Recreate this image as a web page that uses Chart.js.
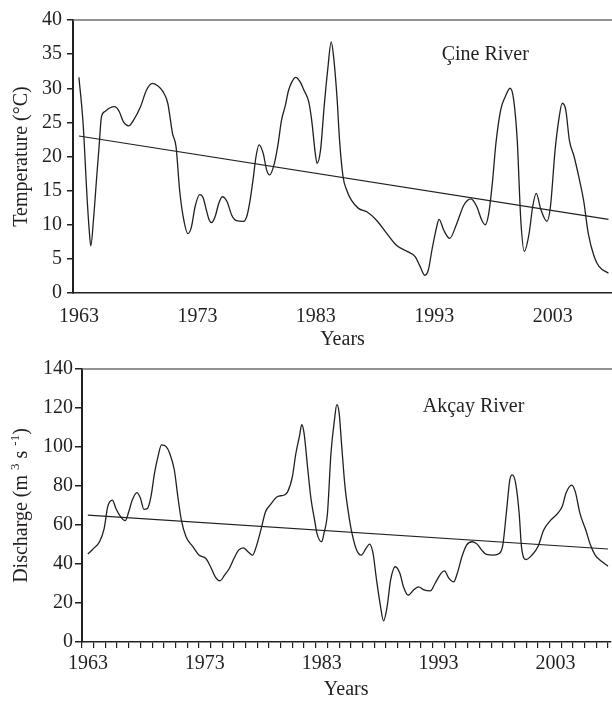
<!DOCTYPE html>
<html lang="en">

<head>
    <meta charset="UTF-8">
    <title>Çine and Akçay Rivers</title>
    <script src="https://cdn.jsdelivr.net/npm/chart.js"></script>
    <style>
        body,
        html {
            margin: 0;
            padding: 0;
            background-color: #fff;
        }

        .panel {
            position: absolute;
            left: 0;
            width: 612px;
        }

        #topPanel {
            top: 0;
            height: 352px;
        }

        #bottomPanel {
            top: 352px;
            height: 350px;
        }
    </style>
</head>

<body>
    <div class="panel" id="topPanel"><canvas id="tempChart"></canvas></div>
    <div class="panel" id="bottomPanel"><canvas id="dischargeChart"></canvas></div>

    <script>
        // Çine River (top panel)
        const cineYears = [
            1963.0, 1963.35, 1963.7, 1963.87, 1964.0, 1964.25, 1964.5, 1964.7, 1964.9, 1965.2,
            1965.6, 1966.0, 1966.4, 1966.75, 1967.2, 1967.6, 1968.2, 1968.7, 1969.2, 1969.7,
            1970.1, 1970.5, 1970.9, 1971.2, 1971.5, 1971.8, 1972.2, 1972.5, 1972.8, 1973.2,
            1973.5, 1973.75, 1974.0, 1974.2, 1974.5, 1974.8, 1975.1, 1975.5, 1975.9, 1976.3,
            1976.9, 1977.2, 1977.45, 1977.7, 1977.95, 1978.2, 1978.55, 1978.85, 1979.1, 1979.5,
            1979.8, 1980.1, 1980.4, 1980.7, 1981.0, 1981.3, 1981.65, 1982.0, 1982.4, 1982.65,
            1982.95, 1983.1, 1983.4, 1983.7, 1984.0, 1984.3, 1984.5, 1984.8, 1985.0, 1985.3,
            1985.6, 1986.0, 1986.6, 1987.3, 1988.1, 1989.0, 1989.8, 1990.7, 1991.4, 1991.8,
            1992.2, 1992.5, 1992.8, 1993.2, 1993.4, 1993.8, 1994.3, 1994.9, 1995.5, 1996.1,
            1996.6, 1997.0, 1997.3, 1997.6, 1997.9, 1998.2, 1998.6, 1999.0, 1999.4, 1999.7,
            2000.0, 2000.3, 2000.6, 2001.0, 2001.3, 2001.6, 2002.0, 2002.5, 2002.8, 2003.2,
            2003.5, 2003.8, 2004.1, 2004.4, 2004.8, 2005.2, 2005.6, 2006.0, 2006.5, 2006.9,
            2007.7
        ];
        const cineTemp = [
            31.6, 24.9, 13.6, 9.2, 6.9, 11.2, 17.0, 21.4, 25.8, 26.6,
            27.1, 27.3, 26.6, 25.1, 24.5, 25.3, 27.3, 29.7, 30.7, 30.3,
            29.5, 27.8, 23.4, 21.4, 15.1, 11.2, 8.7, 9.7, 12.6, 14.4,
            13.9, 12.2, 10.7, 10.3, 11.2, 13.1, 14.1, 13.4, 11.4, 10.6,
            10.5, 11.4, 13.6, 16.6, 20.0, 21.7, 20.5, 18.0, 17.3, 19.0,
            21.7, 25.3, 27.3, 29.7, 31.0, 31.6, 31.0, 29.7, 28.0, 25.3,
            20.5, 19.0, 21.0, 27.3, 32.7, 36.8, 34.6, 28.3, 22.4, 17.0,
            15.1, 13.6, 12.4, 11.9, 10.7, 8.7, 7.0, 6.1, 5.3, 3.9,
            2.6, 3.4, 6.3, 9.7, 10.8, 9.2, 8.0, 10.2, 12.9, 13.8,
            12.6, 10.7, 10.0, 11.7, 16.1, 21.9, 26.8, 28.8, 30.0, 28.3,
            22.4, 10.7, 6.1, 8.7, 12.6, 14.6, 12.2, 10.5, 12.6, 21.0,
            25.3, 27.8, 26.8, 22.4, 20.0, 17.0, 13.6, 8.7, 5.3, 3.9,
            2.9
        ];
        const cineTrendYears = [1963, 2007.7];
        const cineTrend = [23.0, 10.8];

        // Akçay River (bottom panel)
        const akcayYears = [
            1963.0, 1963.5, 1964.0, 1964.4, 1964.7, 1965.1, 1965.4, 1965.8, 1966.2, 1966.5,
            1966.8, 1967.2, 1967.5, 1967.8, 1968.1, 1968.4, 1968.7, 1969.0, 1969.3, 1969.7,
            1970.0, 1970.4, 1970.7, 1971.0, 1971.4, 1972.0, 1972.5, 1973.1, 1973.5, 1973.9,
            1974.3, 1974.7, 1975.1, 1975.5, 1975.9, 1976.3, 1976.7, 1977.1, 1977.4, 1977.8,
            1978.2, 1978.6, 1979.2, 1979.8, 1980.1, 1980.5, 1980.8, 1981.1, 1981.3, 1981.5,
            1981.8, 1982.1, 1982.4, 1982.6, 1983.0, 1983.2, 1983.5, 1983.8, 1984.1, 1984.3,
            1984.5, 1984.7, 1985.0, 1985.3, 1985.6, 1986.0, 1986.4, 1986.8, 1987.1, 1987.4,
            1987.7, 1988.0, 1988.3, 1988.6, 1988.9, 1989.3, 1989.7, 1990.0, 1990.4, 1990.9,
            1991.3, 1991.7, 1992.3, 1992.7, 1993.2, 1993.5, 1993.9, 1994.3, 1994.6, 1995.0,
            1995.4, 1995.9, 1996.3, 1996.7, 1997.1, 1997.7, 1998.2, 1998.5, 1998.8, 1999.1,
            1999.3, 1999.6, 1999.9, 2000.1, 2000.5, 2001.0, 2001.5, 2002.0, 2002.6, 2003.2,
            2003.6, 2003.9, 2004.4, 2004.7, 2005.1, 2005.6, 2006.0, 2006.4, 2007.0, 2007.5
        ];
        const akcayDischarge = [
            45.1, 48.0, 51.4, 58.3, 69.4, 72.8, 68.5, 64.3, 62.2, 66.8,
            72.8, 76.6, 73.7, 68.0, 68.5, 74.5, 86.5, 95.1, 101.1, 100.2,
            96.8, 88.2, 74.5, 62.5, 54.0, 48.8, 44.6, 42.8, 38.6, 33.4,
            31.4, 34.3, 37.7, 42.8, 47.1, 48.3, 46.3, 44.6, 48.8, 57.4,
            66.8, 70.3, 74.5, 75.4, 77.1, 84.8, 96.8, 105.4, 111.4, 107.0,
            89.5, 73.0, 62.5, 55.7, 51.4, 55.7, 66.0, 96.8, 114.0, 121.7,
            117.4, 102.0, 79.7, 66.0, 55.7, 47.1, 44.6, 48.0, 50.2, 45.4,
            31.7, 19.7, 10.8, 18.0, 31.7, 38.6, 35.1, 28.3, 24.0, 26.9,
            28.3, 26.9, 26.2, 30.0, 35.1, 36.5, 32.6, 30.8, 35.1, 43.7,
            49.7, 51.4, 50.2, 47.1, 44.9, 44.6, 45.4, 49.7, 66.0, 83.1,
            85.7, 81.4, 66.0, 48.8, 42.3, 44.6, 48.8, 57.4, 62.5, 66.0,
            69.7, 76.3, 80.5, 77.1, 66.0, 57.4, 49.7, 44.6, 41.1, 38.9
        ];
        const akcayTrendYears = [1963, 2007.5];
        const akcayTrend = [65.1, 47.7];

        const labelYears = [1963, 1973, 1983, 1993, 2003];

        const ink = '#231f20';
        const frameGrey = '#6d6e70';
        const serif = 'Liberation Serif';

        function toPoints(xs, ys) {
            return xs.map((x, i) => ({ x: x, y: ys[i] }));
        }

        // grey line along the top of the plot area
        const topFrame = {
            id: 'topFrame',
            afterDraw(chart) {
                const { ctx, chartArea } = chart;
                ctx.save();
                ctx.strokeStyle = frameGrey;
                ctx.lineWidth = 1.5;
                ctx.beginPath();
                ctx.moveTo(chartArea.left, chartArea.top);
                ctx.lineTo(chart.width, chartArea.top);
                ctx.stroke();
                ctx.restore();
            }
        };

        // river name written inside the plot
        const riverLabel = {
            id: 'riverLabel',
            afterDatasetsDraw(chart, args, opts) {
                const { ctx, scales } = chart;
                ctx.save();
                ctx.font = '20px "' + serif + '"';
                ctx.fillStyle = ink;
                ctx.textAlign = 'center';
                ctx.textBaseline = 'middle';
                ctx.fillText(opts.text, scales.x.getPixelForValue(opts.at[0]), scales.y.getPixelForValue(opts.at[1]));
                ctx.restore();
            }
        };

        // y title with superscripts: Discharge (m 3 s -1)
        const supTitle = {
            id: 'supTitle',
            afterDraw(chart, args, opts) {
                if (!opts.parts) return;
                const { ctx, chartArea } = chart;
                const big = '20px "' + serif + '"';
                const small = '13px "' + serif + '"';
                ctx.save();
                ctx.fillStyle = ink;
                ctx.textBaseline = 'middle';
                ctx.textAlign = 'left';
                let total = 0;
                opts.parts.forEach(p => {
                    ctx.font = p[1] ? small : big;
                    total += ctx.measureText(p[0]).width;
                });
                ctx.translate(opts.x, (chartArea.top + chartArea.bottom) / 2);
                ctx.rotate(-Math.PI / 2);
                let pos = -total / 2;
                opts.parts.forEach(p => {
                    ctx.font = p[1] ? small : big;
                    ctx.fillText(p[0], pos, p[1] ? -6 : 0);
                    pos += ctx.measureText(p[0]).width;
                });
                ctx.restore();
            }
        };

        function lineSet(points, width, smooth) {
            return {
                data: points,
                borderColor: ink,
                borderWidth: width,
                pointRadius: 0,
                fill: false,
                cubicInterpolationMode: smooth ? 'monotone' : 'default',
                tension: 0
            };
        }

        // --- temperature chart ---
        new Chart(document.getElementById('tempChart'), {
            type: 'line',
            data: {
                datasets: [
                    lineSet(toPoints(cineYears, cineTemp), 1.3, true),
                    lineSet(toPoints(cineTrendYears, cineTrend), 1.2, false)
                ]
            },
            plugins: [topFrame, riverLabel],
            options: {
                responsive: true,
                maintainAspectRatio: false,
                animation: false,
                layout: { padding: { top: 20, left: 0, right: 0, bottom: 0 } },
                plugins: {
                    legend: { display: false },
                    tooltip: { enabled: false },
                    riverLabel: { text: 'Çine River', at: [1997.3, 34.9] }
                },
                scales: {
                    x: {
                        type: 'linear',
                        min: 1962.5,
                        max: 2008,
                        afterBuildTicks: (scale) => {
                            scale.ticks = labelYears.map(v => ({ value: v }));
                        },
                        afterFit: (scale) => { scale.height = 59; },
                        grid: { display: false },
                        border: { color: ink, width: 1.5 },
                        ticks: {
                            color: ink,
                            font: { family: serif, size: 20 },
                            padding: 4,
                            maxRotation: 0,
                            autoSkip: false,
                            callback: (v) => String(v)
                        },
                        title: {
                            display: true,
                            text: 'Years',
                            color: ink,
                            font: { family: serif, size: 20 },
                            padding: { top: 0, bottom: 0 }
                        }
                    },
                    y: {
                        min: 0,
                        max: 40,
                        afterFit: (scale) => { scale.width = 73; },
                        grid: { drawOnChartArea: false, tickLength: 6, color: ink, lineWidth: 1.5 },
                        border: { color: ink, width: 2 },
                        ticks: {
                            stepSize: 5,
                            color: ink,
                            font: { family: serif, size: 20 },
                            padding: 5
                        },
                        title: {
                            display: true,
                            text: 'Temperature (°C)',
                            color: ink,
                            font: { family: serif, size: 20 },
                            padding: { top: 10, bottom: 0 }
                        }
                    }
                }
            }
        });

        // --- discharge chart ---
        new Chart(document.getElementById('dischargeChart'), {
            type: 'line',
            data: {
                datasets: [
                    lineSet(toPoints(akcayYears, akcayDischarge), 1.3, true),
                    lineSet(toPoints(akcayTrendYears, akcayTrend), 1.2, false)
                ]
            },
            plugins: [topFrame, riverLabel, supTitle],
            options: {
                responsive: true,
                maintainAspectRatio: false,
                animation: false,
                layout: { padding: { top: 17, left: 0, right: 0, bottom: 0 } },
                plugins: {
                    legend: { display: false },
                    tooltip: { enabled: false },
                    riverLabel: { text: 'Akçay River', at: [1996.0, 120.5] },
                    supTitle: {
                        x: 22,
                        parts: [['Discharge (m ', false], ['3', true], [' s ', false], ['-1', true], [')', false]]
                    }
                },
                scales: {
                    x: {
                        type: 'linear',
                        min: 1962.5,
                        max: 2007.7,
                        // a small tick at every year boundary, labels sit in the middle of the year
                        afterBuildTicks: (scale) => {
                            const t = [];
                            for (let v = 1962.5; v <= scale.max; v += 1) t.push({ value: v });
                            scale.ticks = t;
                        },
                        afterFit: (scale) => { scale.height = 60; },
                        grid: { drawOnChartArea: false, tickLength: 6, color: ink, lineWidth: 1.2 },
                        border: { color: ink, width: 1.5 },
                        ticks: {
                            color: ink,
                            font: { family: serif, size: 20 },
                            padding: 4,
                            maxRotation: 0,
                            autoSkip: false,
                            labelOffset: 5.9,
                            callback: (v) => labelYears.includes(v + 0.5) ? String(v + 0.5) : ''
                        },
                        title: {
                            display: true,
                            text: 'Years',
                            color: ink,
                            font: { family: serif, size: 20 },
                            padding: { top: 0, bottom: 0 }
                        }
                    },
                    y: {
                        min: 0,
                        max: 140,
                        afterFit: (scale) => { scale.width = 82; },
                        grid: { drawOnChartArea: false, tickLength: 7, color: ink, lineWidth: 1.5 },
                        border: { color: ink, width: 2 },
                        ticks: {
                            stepSize: 20,
                            color: ink,
                            font: { family: serif, size: 20 },
                            padding: 2
                        },
                        title: { display: false }
                    }
                }
            }
        });
    </script>
</body>

</html>
